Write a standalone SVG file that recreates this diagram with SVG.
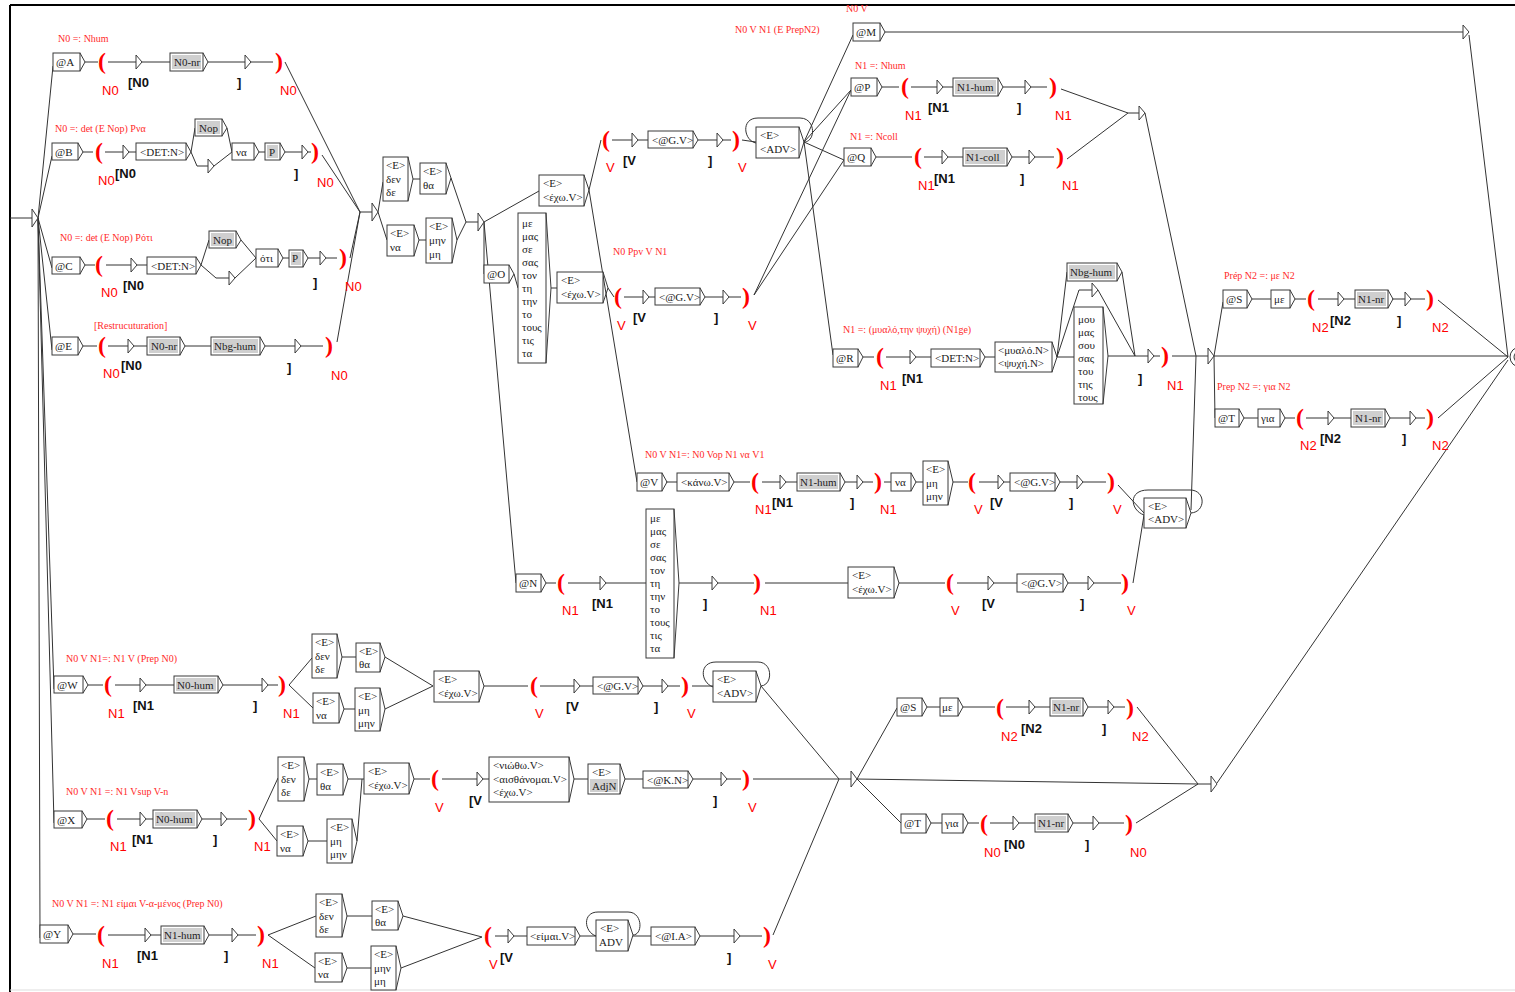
<svg xmlns="http://www.w3.org/2000/svg" width="1515" height="992" viewBox="0 0 1515 992">
<defs>
<style>
.bx{fill:#fff;stroke:#3a3a3a;stroke-width:1}
.gy{fill:#cfcfcf;stroke:none}
.ar{fill:none;stroke:#3a3a3a;stroke-width:1}
.tri{fill:#fff;stroke:#3a3a3a;stroke-width:1}
.t{font-family:"Liberation Serif",serif;font-size:11px;fill:#222}
.p{font-family:"Liberation Serif",serif;font-size:24px;font-weight:bold;fill:#ff0000}
.r{font-family:"Liberation Sans",sans-serif;font-size:13px;fill:#ff0000}
.k{font-family:"Liberation Sans",sans-serif;font-size:13px;font-weight:bold;fill:#111}
.c{font-family:"Liberation Serif",serif;font-size:10px;fill:#ff2a2a}
#edges path{stroke:#333;stroke-width:1;fill:none}
</style>
<path id="tr" d="M0,-7L6,0L0,7Z"/>
</defs>
<rect width="1515" height="992" fill="#fff"/>
<g id="frame">
<line x1="10" y1="5" x2="1515" y2="5" stroke="#000" stroke-width="2"/>
<line x1="10" y1="5" x2="10" y2="992" stroke="#000" stroke-width="2"/>
<line x1="10" y1="990" x2="1515" y2="990" stroke="#ddd"/>
</g>
<g id="comments">
<text class="c" x="58" y="42">N0 =: Nhum</text>
<text class="c" x="55" y="132">N0 =: det (E Nop) Pνα</text>
<text class="c" x="60" y="241">N0 =: det (E Nop) Pότι</text>
<text class="c" x="94" y="329">[Restrucuturation]</text>
<text class="c" x="846" y="12">N0 V</text>
<text class="c" x="735" y="33">N0 V N1 (E PrepN2)</text>
<text class="c" x="855" y="69">N1 =: Nhum</text>
<text class="c" x="850" y="140">N1 =: Ncoll</text>
<text class="c" x="613" y="255">N0 Ppv V N1</text>
<text class="c" x="843" y="333">N1 =: (μυαλό,την ψυχή) (N1ge)</text>
<text class="c" x="1224" y="279">Prép N2 =: με N2</text>
<text class="c" x="1217" y="390">Prep N2 =: για N2</text>
<text class="c" x="645" y="458">N0 V N1=: N0 Vop N1 να V1</text>
<text class="c" x="66" y="662">N0 V N1=: N1 V (Prep N0)</text>
<text class="c" x="66" y="795">N0 V N1 =: N1 Vsup V-n</text>
<text class="c" x="52" y="907">N0 V N1  =: N1 είμαι V-α-μένος (Prep N0)</text>
</g>
<g id="edges">
<path d="M10,218H32M38,218L53,66M38,218L52,156M38,218L52,268M38,218L52,350M38,218L54,689M38,218L54,823M38,218L40,938"/>
<path d="M85,62H98M108,62H136M142,62H170M208,62H245M251,62H273M285,62L360,212"/>
<path d="M83,152H93M105,152H123M129,152H136M191,152L195,128M191,152L197,166H208M227,128L232,152M214,166L232,152M259,152H265M285,152H302M308,152H311M322,155L360,212"/>
<path d="M85,265H95M106,265H131M137,265H147M201,265L209,240M201,265L216,278H229M241,240L256,258M235,278L256,258M283,258H289M308,258H320M326,258H337M350,258L360,212"/>
<path d="M83,346H97M108,346H128M134,346H147M185,346H211M265,346H295M301,346H323M337,342L360,212"/>
<path d="M360,212H372M378,212L383,182M378,212L387,240M413,179H420M419,240H426M451,178L466,222M457,240L466,222M466,222H478"/>
<path d="M484,222L539,191M484,222L484,274M484,222L516,583M514,274L518,288M551,288H557M589,190L601,140M589,190L637,482M608,288L614,297"/>
<path d="M612,140H632M638,140H648M698,140H717M723,140H731M742,140L756,142"/>
<path d="M756,143C744,141 740,118 758,118L800,118C816,118 816,142 804,142"/>
<path d="M804,142L853,35M804,142L851,90M804,142L844,160M804,142L833,355"/>
<path d="M624,297H643M649,297H655M705,297H723M729,297H741M754,295L851,90M754,295L844,160"/>
<path d="M885,32H1463M1469,35L1508,357"/>
<path d="M882,87H899M911,87H937M943,87H953M1003,87H1025M1031,87H1047M1061,89L1128,113"/>
<path d="M876,157H912M924,157H942M948,157H963M1012,157H1029M1035,157H1054M1067,159L1128,113M1128,113H1139M1145,113L1196,356"/>
<path d="M863,357H874M886,357H910M916,357H931M985,357H995M1057,357L1067,272M1057,357L1079,290H1092M1057,357H1074M1122,272L1135,356M1098,290L1135,356M1108,356H1148M1154,356H1160M1172,356H1208"/>
<path d="M1214,356L1223,302M1214,356L1215,418M1214,356H1508"/>
<path d="M1252,299H1271M1295,299H1306M1318,299H1338M1344,299H1355M1392,299H1405M1411,299H1425M1438,300L1508,357"/>
<path d="M1244,418H1258M1285,418H1295M1306,418H1328M1334,418H1351M1390,418H1410M1416,418H1425M1438,418L1508,357"/>
<path d="M666,482H677M734,482H750M762,482H780M786,482H797M845,482H857M863,482H873M884,482H891M916,482H923M953,482H968M979,482H998M1004,482H1010M1060,482H1077M1083,482H1106M1118,485L1144,513"/>
<path d="M1144,515C1130,510 1128,490 1148,490L1190,490C1206,490 1206,512 1191,513"/>
<path d="M1191,510L1196,356"/>
<path d="M546,583H556M568,583H600M606,583H646M679,583H712M718,583H754M765,583H848M899,583H945M957,583H988M994,583H1017M1068,583H1088M1094,583H1121M1133,583L1144,515"/>
<path d="M88,685H103M115,685H140M146,685H174M223,685H262M268,685H278M289,685L312,658M289,685L313,708M342,657H356M344,709H355M385,657L433,686M385,709L433,686M484,686H528M540,686H574M580,686H593M643,686H662M668,686H680M692,686H713M761,686L839,779"/>
<path d="M713,687C700,682 699,662 716,662L758,662C773,662 773,685 761,686"/>
<path d="M87,819H105M117,819H140M146,819H153M202,819H221M227,819H247M259,819L278,778M259,819L277,841M309,779H317M308,841H327M348,779H364M357,841L362,779M414,779H430M442,779H477M483,779H489M574,779H588M625,779H643M693,779H721M727,779H741M753,779H839"/>
<path d="M73,934H96M108,935H145M151,935H161M209,935H232M238,935H256M268,935L316,916M268,935L315,968M347,916H372M347,968H371M403,916L482,937M401,968L482,937M495,936H508M514,936H527M580,936H596M633,936H651M700,936H734M740,936H762M773,935L839,779"/>
<path d="M596,936C584,932 582,912 598,912L628,912C643,912 643,935 633,935"/>
<path d="M839,779H851M857,779L897,708M857,779L901,823M857,779L1198,784"/>
<path d="M927,707H940M963,707H995M1006,707H1029M1035,707H1050M1088,707H1108M1114,707H1125M1137,707L1198,784"/>
<path d="M931,823H942M968,823H979M990,823H1013M1019,823H1035M1073,823H1093M1099,823H1124M1136,823L1198,784"/>
<path d="M1198,784H1211M1217,783L1508,360"/>
</g>
<g id="init"><path class="tri" d="M32,209L38,218L32,227Z"/></g>
<g id="final"><circle cx="1520" cy="357" r="10" fill="#fff" stroke="#333"/><circle cx="1520" cy="357" r="6" fill="none" stroke="#333"/></g>

<g id="nA"><rect class="bx" x="53" y="53" width="27" height="18"/><polyline class="ar" points="80,53 85,62 80,71"/><text class="t" x="56" y="66">@A</text></g>
<g id="pA1"><text class="p" x="98" y="69">(</text><text class="r" x="102" y="95">N0</text></g>
<g id="eA1"><use class="tri" href="#tr" x="136" y="62"/><text class="k" x="128" y="87">[N0</text></g>
<g id="nA2"><rect class="bx" x="170" y="53" width="33" height="18"/><rect class="gy" x="172" y="55" width="29" height="14"/><polyline class="ar" points="203,53 208,62 203,71"/><text class="t" x="174" y="66">N0-nr</text></g>
<g id="eA2"><use class="tri" href="#tr" x="245" y="62"/><text class="k" x="237" y="87">]</text></g>
<g id="pA2"><text class="p" x="275" y="69">)</text><text class="r" x="280" y="95">N0</text></g>

<g id="nB"><rect class="bx" x="52" y="143" width="26" height="17"/><polyline class="ar" points="78,143 83,152 78,160"/><text class="t" x="55" y="156">@B</text></g>
<g id="pB1"><text class="p" x="95" y="159">(</text><text class="r" x="98" y="185">N0</text></g>
<g id="eB1"><use class="tri" href="#tr" x="123" y="152"/><text class="k" x="115" y="178">[N0</text></g>
<g id="nB2"><rect class="bx" x="136" y="143" width="50" height="17"/><polyline class="ar" points="186,143 191,152 186,160"/><text class="t" x="140" y="156">&lt;DET:N&gt;</text></g>
<g id="nB3"><rect class="bx" x="195" y="119" width="27" height="17"/><rect class="gy" x="197" y="121" width="23" height="13"/><polyline class="ar" points="222,119 227,128 222,136"/><text class="t" x="199" y="132">Nop</text></g>
<g id="eB2"><use class="tri" href="#tr" x="208" y="166"/></g>
<g id="nB4"><rect class="bx" x="232" y="143" width="22" height="17"/><polyline class="ar" points="254,143 259,152 254,160"/><text class="t" x="236" y="156">να</text></g>
<g id="nB5"><rect class="bx" x="265" y="143" width="15" height="17"/><rect class="gy" x="267" y="145" width="11" height="13"/><polyline class="ar" points="280,143 285,152 280,160"/><text class="t" x="269" y="156">P</text></g>
<g id="eB3"><use class="tri" href="#tr" x="302" y="152"/><text class="k" x="294" y="178">]</text></g>
<g id="pB2"><text class="p" x="311" y="159">)</text><text class="r" x="317" y="187">N0</text></g>

<g id="nC"><rect class="bx" x="52" y="257" width="28" height="17"/><polyline class="ar" points="80,257 85,265 80,274"/><text class="t" x="55" y="270">@C</text></g>
<g id="pC1"><text class="p" x="95" y="272">(</text><text class="r" x="101" y="297">N0</text></g>
<g id="eC1"><use class="tri" href="#tr" x="131" y="265"/><text class="k" x="123" y="290">[N0</text></g>
<g id="nC2"><rect class="bx" x="147" y="257" width="49" height="17"/><polyline class="ar" points="196,257 201,265 196,274"/><text class="t" x="151" y="270">&lt;DET:N&gt;</text></g>
<g id="nC3"><rect class="bx" x="209" y="231" width="27" height="17"/><rect class="gy" x="211" y="233" width="23" height="13"/><polyline class="ar" points="236,231 241,240 236,248"/><text class="t" x="213" y="244">Nop</text></g>
<g id="eC2"><use class="tri" href="#tr" x="229" y="278"/></g>
<g id="nC4"><rect class="bx" x="256" y="249" width="22" height="18"/><polyline class="ar" points="278,249 283,258 278,267"/><text class="t" x="260" y="262">ότι</text></g>
<g id="nC5"><rect class="bx" x="289" y="250" width="14" height="17"/><rect class="gy" x="291" y="252" width="10" height="13"/><polyline class="ar" points="303,250 308,258 303,267"/><text class="t" x="292" y="262">P</text></g>
<g id="eC3"><use class="tri" href="#tr" x="320" y="258"/><text class="k" x="313" y="287">]</text></g>
<g id="pC2"><text class="p" x="339" y="265">)</text><text class="r" x="345" y="291">N0</text></g>

<g id="nE"><rect class="bx" x="52" y="337" width="26" height="18"/><polyline class="ar" points="78,337 83,346 78,355"/><text class="t" x="55" y="350">@E</text></g>
<g id="pE1"><text class="p" x="98" y="353">(</text><text class="r" x="103" y="378">N0</text></g>
<g id="eE1"><use class="tri" href="#tr" x="128" y="346"/><text class="k" x="121" y="370">[N0</text></g>
<g id="nE2"><rect class="bx" x="147" y="337" width="33" height="18"/><rect class="gy" x="149" y="339" width="29" height="14"/><polyline class="ar" points="180,337 185,346 180,355"/><text class="t" x="151" y="350">N0-nr</text></g>
<g id="nE3"><rect class="bx" x="211" y="337" width="49" height="18"/><rect class="gy" x="213" y="339" width="45" height="14"/><polyline class="ar" points="260,337 265,346 260,355"/><text class="t" x="214" y="350">Nbg-hum</text></g>
<g id="eE2"><use class="tri" href="#tr" x="295" y="346"/><text class="k" x="287" y="372">]</text></g>
<g id="pE2"><text class="p" x="325" y="353">)</text><text class="r" x="331" y="380">N0</text></g>

<g id="j1"><path class="tri" d="M372,203L378,212L372,221Z"/></g>
<g id="n1den"><rect class="bx" x="383" y="157" width="25" height="44"/><polyline class="ar" points="408,157 413,179 408,201"/><text class="t" x="386" y="169">&lt;E&gt;</text><text class="t" x="386" y="183">δεν</text><text class="t" x="386" y="196">δε</text></g>
<g id="n1tha"><rect class="bx" x="420" y="163" width="26" height="31"/><polyline class="ar" points="446,163 451,178 446,194"/><text class="t" x="423" y="175">&lt;E&gt;</text><text class="t" x="423" y="189">θα</text></g>
<g id="n1na"><rect class="bx" x="387" y="225" width="27" height="31"/><polyline class="ar" points="414,225 419,240 414,256"/><text class="t" x="390" y="237">&lt;E&gt;</text><text class="t" x="390" y="251">να</text></g>
<g id="n1mh"><rect class="bx" x="426" y="218" width="26" height="45"/><polyline class="ar" points="452,218 457,240 452,263"/><text class="t" x="429" y="230">&lt;E&gt;</text><text class="t" x="429" y="244">μην</text><text class="t" x="429" y="258">μη</text></g>
<g id="j2"><path class="tri" d="M478,213L484,222L478,231Z"/></g>
<g id="nexo1"><rect class="bx" x="539" y="175" width="45" height="31"/><polyline class="ar" points="584,175 589,190 584,206"/><text class="t" x="543" y="187">&lt;E&gt;</text><text class="t" x="543" y="201">&lt;έχω.V&gt;</text></g>
<g id="nO"><rect class="bx" x="484" y="265" width="25" height="18"/><polyline class="ar" points="509,265 514,274 509,283"/><text class="t" x="487" y="278">@O</text></g>
<g id="nlist1"><rect class="bx" x="518" y="213" width="28" height="150"/><polyline class="ar" points="546,213 551,288 546,363"/>
<text class="t" x="522" y="227">με</text><text class="t" x="522" y="240">μας</text><text class="t" x="522" y="253">σε</text><text class="t" x="522" y="266">σας</text><text class="t" x="522" y="279">τον</text><text class="t" x="522" y="292">τη</text><text class="t" x="522" y="305">την</text><text class="t" x="522" y="318">το</text><text class="t" x="522" y="331">τους</text><text class="t" x="522" y="344">τις</text><text class="t" x="522" y="357">τα</text></g>
<g id="nexo2"><rect class="bx" x="557" y="272" width="46" height="31"/><polyline class="ar" points="603,272 608,288 603,303"/><text class="t" x="561" y="284">&lt;E&gt;</text><text class="t" x="561" y="298">&lt;έχω.V&gt;</text></g>

<g id="pV1"><text class="p" x="602" y="147">(</text><text class="r" x="606" y="172">V</text></g>
<g id="eV1"><use class="tri" href="#tr" x="632" y="140"/><text class="k" x="623" y="165">[V</text></g>
<g id="nGV1"><rect class="bx" x="648" y="131" width="45" height="17"/><polyline class="ar" points="693,131 698,140 693,148"/><text class="t" x="652" y="144">&lt;@G.V&gt;</text></g>
<g id="eV2"><use class="tri" href="#tr" x="717" y="140"/><text class="k" x="708" y="165">]</text></g>
<g id="pV2"><text class="p" x="732" y="147">)</text><text class="r" x="738" y="172">V</text></g>
<g id="nADV1"><rect class="bx" x="756" y="127" width="43" height="31"/><polyline class="ar" points="799,127 804,142 799,158"/><text class="t" x="760" y="139">&lt;E&gt;</text><text class="t" x="760" y="153">&lt;ADV&gt;</text></g>

<g id="pV3"><text class="p" x="614" y="304">(</text><text class="r" x="617" y="330">V</text></g>
<g id="eV3"><use class="tri" href="#tr" x="643" y="297"/><text class="k" x="633" y="322">[V</text></g>
<g id="nGV2"><rect class="bx" x="655" y="288" width="45" height="17"/><polyline class="ar" points="700,288 705,297 700,305"/><text class="t" x="659" y="301">&lt;@G.V&gt;</text></g>
<g id="eV4"><use class="tri" href="#tr" x="723" y="297"/><text class="k" x="714" y="322">]</text></g>
<g id="pV4"><text class="p" x="742" y="304">)</text><text class="r" x="748" y="330">V</text></g>

<g id="nM"><rect class="bx" x="853" y="23" width="27" height="18"/><polyline class="ar" points="880,23 885,32 880,41"/><text class="t" x="856" y="36">@M</text></g>
<g id="eM"><use class="tri" href="#tr" x="1463" y="32"/></g>

<g id="nP"><rect class="bx" x="851" y="78" width="26" height="18"/><polyline class="ar" points="877,78 882,87 877,96"/><text class="t" x="854" y="91">@P</text></g>
<g id="pP1"><text class="p" x="901" y="94">(</text><text class="r" x="905" y="120">N1</text></g>
<g id="eP1"><use class="tri" href="#tr" x="937" y="87"/><text class="k" x="928" y="112">[N1</text></g>
<g id="nP2"><rect class="bx" x="953" y="78" width="45" height="18"/><rect class="gy" x="955" y="80" width="41" height="14"/><polyline class="ar" points="998,78 1003,87 998,96"/><text class="t" x="957" y="91">N1-hum</text></g>
<g id="eP2"><use class="tri" href="#tr" x="1025" y="87"/><text class="k" x="1017" y="112">]</text></g>
<g id="pP2"><text class="p" x="1049" y="94">)</text><text class="r" x="1055" y="120">N1</text></g>

<g id="nQ"><rect class="bx" x="844" y="148" width="27" height="18"/><polyline class="ar" points="871,148 876,157 871,166"/><text class="t" x="847" y="161">@Q</text></g>
<g id="pQ1"><text class="p" x="914" y="164">(</text><text class="r" x="918" y="190">N1</text></g>
<g id="eQ1"><use class="tri" href="#tr" x="942" y="157"/><text class="k" x="934" y="183">[N1</text></g>
<g id="nQ2"><rect class="bx" x="963" y="148" width="44" height="18"/><rect class="gy" x="965" y="150" width="40" height="14"/><polyline class="ar" points="1007,148 1012,157 1007,166"/><text class="t" x="966" y="161">N1-coll</text></g>
<g id="eQ2"><use class="tri" href="#tr" x="1029" y="157"/><text class="k" x="1020" y="183">]</text></g>
<g id="pQ2"><text class="p" x="1056" y="164">)</text><text class="r" x="1062" y="190">N1</text></g>
<g id="jPQ"><use class="tri" href="#tr" x="1139" y="113"/></g>

<g id="nR"><rect class="bx" x="833" y="349" width="25" height="18"/><polyline class="ar" points="858,349 863,357 858,367"/><text class="t" x="836" y="362">@R</text></g>
<g id="pR1"><text class="p" x="876" y="364">(</text><text class="r" x="880" y="390">N1</text></g>
<g id="eR1"><use class="tri" href="#tr" x="910" y="357"/><text class="k" x="902" y="383">[N1</text></g>
<g id="nR2"><rect class="bx" x="931" y="349" width="49" height="18"/><polyline class="ar" points="980,349 985,357 980,367"/><text class="t" x="935" y="362">&lt;DET:N&gt;</text></g>
<g id="nR3"><rect class="bx" x="995" y="342" width="57" height="30"/><polyline class="ar" points="1052,342 1057,357 1052,372"/><text class="t" x="998" y="354">&lt;μυαλό.N&gt;</text><text class="t" x="998" y="367">&lt;ψυχή.N&gt;</text></g>
<g id="nR4"><rect class="bx" x="1067" y="263" width="50" height="18"/><rect class="gy" x="1069" y="265" width="46" height="14"/><polyline class="ar" points="1117,263 1122,272 1117,281"/><text class="t" x="1070" y="276">Nbg-hum</text></g>
<g id="eR2"><use class="tri" href="#tr" x="1092" y="290"/></g>
<g id="nR5"><rect class="bx" x="1074" y="307" width="29" height="97"/><polyline class="ar" points="1103,307 1108,356 1103,404"/>
<text class="t" x="1078" y="323">μου</text><text class="t" x="1078" y="336">μας</text><text class="t" x="1078" y="349">σου</text><text class="t" x="1078" y="362">σας</text><text class="t" x="1078" y="375">του</text><text class="t" x="1078" y="388">της</text><text class="t" x="1078" y="401">τους</text></g>
<g id="eR3"><use class="tri" href="#tr" x="1148" y="356"/><text class="k" x="1138" y="383">]</text></g>
<g id="pR2"><text class="p" x="1161" y="363">)</text><text class="r" x="1167" y="390">N1</text></g>
<g id="j3"><path class="tri" d="M1208,348L1214,356L1208,364Z"/></g>

<g id="nS"><rect class="bx" x="1223" y="290" width="24" height="18"/><polyline class="ar" points="1247,290 1252,299 1247,308"/><text class="t" x="1226" y="303">@S</text></g>
<g id="nS2"><rect class="bx" x="1271" y="290" width="19" height="18"/><polyline class="ar" points="1290,290 1295,299 1290,308"/><text class="t" x="1274" y="303">με</text></g>
<g id="pS1"><text class="p" x="1307" y="306">(</text><text class="r" x="1312" y="332">N2</text></g>
<g id="eS1"><use class="tri" href="#tr" x="1338" y="299"/><text class="k" x="1330" y="325">[N2</text></g>
<g id="nS3"><rect class="bx" x="1355" y="290" width="33" height="18"/><rect class="gy" x="1357" y="292" width="29" height="14"/><polyline class="ar" points="1388,290 1393,299 1388,308"/><text class="t" x="1358" y="303">N1-nr</text></g>
<g id="eS2"><use class="tri" href="#tr" x="1405" y="299"/><text class="k" x="1397" y="325">]</text></g>
<g id="pS2"><text class="p" x="1426" y="306">)</text><text class="r" x="1432" y="332">N2</text></g>

<g id="nT"><rect class="bx" x="1215" y="409" width="24" height="18"/><polyline class="ar" points="1239,409 1244,418 1239,427"/><text class="t" x="1218" y="422">@T</text></g>
<g id="nT2"><rect class="bx" x="1258" y="409" width="22" height="18"/><polyline class="ar" points="1280,409 1285,418 1280,427"/><text class="t" x="1261" y="422">για</text></g>
<g id="pT1"><text class="p" x="1296" y="425">(</text><text class="r" x="1300" y="450">N2</text></g>
<g id="eT1"><use class="tri" href="#tr" x="1328" y="418"/><text class="k" x="1320" y="443">[N2</text></g>
<g id="nT3"><rect class="bx" x="1351" y="409" width="34" height="18"/><rect class="gy" x="1353" y="411" width="30" height="14"/><polyline class="ar" points="1385,409 1390,418 1385,427"/><text class="t" x="1355" y="422">N1-nr</text></g>
<g id="eT2"><use class="tri" href="#tr" x="1410" y="418"/><text class="k" x="1402" y="443">]</text></g>
<g id="pT2"><text class="p" x="1426" y="425">)</text><text class="r" x="1432" y="450">N2</text></g>

<g id="nV"><rect class="bx" x="637" y="473" width="25" height="18"/><polyline class="ar" points="662,473 667,482 662,491"/><text class="t" x="640" y="486">@V</text></g>
<g id="nV2"><rect class="bx" x="677" y="473" width="52" height="18"/><polyline class="ar" points="729,473 734,482 729,491"/><text class="t" x="681" y="486">&lt;κάνω.V&gt;</text></g>
<g id="pV5"><text class="p" x="751" y="489">(</text><text class="r" x="755" y="514">N1</text></g>
<g id="eV5"><use class="tri" href="#tr" x="780" y="482"/><text class="k" x="772" y="507">[N1</text></g>
<g id="nV3"><rect class="bx" x="797" y="473" width="43" height="18"/><rect class="gy" x="799" y="475" width="39" height="14"/><polyline class="ar" points="840,473 845,482 840,491"/><text class="t" x="800" y="486">N1-hum</text></g>
<g id="eV6"><use class="tri" href="#tr" x="857" y="482"/><text class="k" x="850" y="507">]</text></g>
<g id="pV6"><text class="p" x="874" y="489">)</text><text class="r" x="880" y="514">N1</text></g>
<g id="nV4"><rect class="bx" x="891" y="473" width="20" height="18"/><polyline class="ar" points="911,473 916,482 911,491"/><text class="t" x="895" y="486">να</text></g>
<g id="nV5"><rect class="bx" x="923" y="461" width="25" height="44"/><polyline class="ar" points="948,461 953,482 948,505"/><text class="t" x="926" y="473">&lt;E&gt;</text><text class="t" x="926" y="487">μη</text><text class="t" x="926" y="500">μην</text></g>
<g id="pV7"><text class="p" x="968" y="489">(</text><text class="r" x="974" y="514">V</text></g>
<g id="eV7"><use class="tri" href="#tr" x="998" y="482"/><text class="k" x="990" y="507">[V</text></g>
<g id="nV6"><rect class="bx" x="1010" y="473" width="45" height="18"/><polyline class="ar" points="1055,473 1060,482 1055,491"/><text class="t" x="1014" y="486">&lt;@G.V&gt;</text></g>
<g id="eV8"><use class="tri" href="#tr" x="1077" y="482"/><text class="k" x="1069" y="507">]</text></g>
<g id="pV8"><text class="p" x="1107" y="489">)</text><text class="r" x="1113" y="514">V</text></g>
<g id="nADV2"><rect class="bx" x="1144" y="498" width="42" height="30"/><polyline class="ar" points="1186,498 1191,513 1186,528"/><text class="t" x="1148" y="510">&lt;E&gt;</text><text class="t" x="1148" y="523">&lt;ADV&gt;</text></g>

<g id="nN"><rect class="bx" x="516" y="574" width="25" height="18"/><polyline class="ar" points="541,574 546,583 541,592"/><text class="t" x="519" y="587">@N</text></g>
<g id="pN1"><text class="p" x="557" y="590">(</text><text class="r" x="562" y="615">N1</text></g>
<g id="eN1"><use class="tri" href="#tr" x="600" y="583"/><text class="k" x="592" y="608">[N1</text></g>
<g id="nN2"><rect class="bx" x="646" y="509" width="28" height="149"/><polyline class="ar" points="674,509 679,583 674,658"/>
<text class="t" x="650" y="522">με</text><text class="t" x="650" y="535">μας</text><text class="t" x="650" y="548">σε</text><text class="t" x="650" y="561">σας</text><text class="t" x="650" y="574">τον</text><text class="t" x="650" y="587">τη</text><text class="t" x="650" y="600">την</text><text class="t" x="650" y="613">το</text><text class="t" x="650" y="626">τους</text><text class="t" x="650" y="639">τις</text><text class="t" x="650" y="652">τα</text></g>
<g id="eN2"><use class="tri" href="#tr" x="712" y="583"/><text class="k" x="703" y="608">]</text></g>
<g id="pN2"><text class="p" x="753" y="590">)</text><text class="r" x="760" y="615">N1</text></g>
<g id="nN3"><rect class="bx" x="848" y="567" width="46" height="31"/><polyline class="ar" points="894,567 899,583 894,598"/><text class="t" x="852" y="579">&lt;E&gt;</text><text class="t" x="852" y="593">&lt;έχω.V&gt;</text></g>
<g id="pN3"><text class="p" x="946" y="590">(</text><text class="r" x="951" y="615">V</text></g>
<g id="eN3"><use class="tri" href="#tr" x="988" y="583"/><text class="k" x="982" y="608">[V</text></g>
<g id="nN4"><rect class="bx" x="1017" y="574" width="46" height="18"/><polyline class="ar" points="1063,574 1068,583 1063,592"/><text class="t" x="1021" y="587">&lt;@G.V&gt;</text></g>
<g id="eN4"><use class="tri" href="#tr" x="1088" y="583"/><text class="k" x="1080" y="608">]</text></g>
<g id="pN4"><text class="p" x="1121" y="590">)</text><text class="r" x="1127" y="615">V</text></g>

<g id="nW"><rect class="bx" x="54" y="676" width="29" height="17"/><polyline class="ar" points="83,676 88,685 83,693"/><text class="t" x="57" y="689">@W</text></g>
<g id="pW1"><text class="p" x="104" y="692">(</text><text class="r" x="108" y="718">N1</text></g>
<g id="eW1"><use class="tri" href="#tr" x="140" y="685"/><text class="k" x="133" y="710">[N1</text></g>
<g id="nW2"><rect class="bx" x="174" y="676" width="44" height="17"/><rect class="gy" x="176" y="678" width="40" height="13"/><polyline class="ar" points="218,676 223,685 218,693"/><text class="t" x="177" y="689">N0-hum</text></g>
<g id="eW2"><use class="tri" href="#tr" x="262" y="685"/><text class="k" x="253" y="710">]</text></g>
<g id="pW2"><text class="p" x="278" y="692">)</text><text class="r" x="283" y="718">N1</text></g>
<g id="nW3"><rect class="bx" x="312" y="634" width="25" height="44"/><polyline class="ar" points="337,634 342,657 337,678"/><text class="t" x="315" y="646">&lt;E&gt;</text><text class="t" x="315" y="660">δεν</text><text class="t" x="315" y="673">δε</text></g>
<g id="nW4"><rect class="bx" x="313" y="693" width="26" height="30"/><polyline class="ar" points="339,693 344,709 339,723"/><text class="t" x="316" y="705">&lt;E&gt;</text><text class="t" x="316" y="719">να</text></g>
<g id="nW5"><rect class="bx" x="356" y="643" width="24" height="29"/><polyline class="ar" points="380,643 385,657 380,672"/><text class="t" x="359" y="655">&lt;E&gt;</text><text class="t" x="359" y="668">θα</text></g>
<g id="nW6"><rect class="bx" x="355" y="688" width="25" height="43"/><polyline class="ar" points="380,688 385,709 380,731"/><text class="t" x="358" y="700">&lt;E&gt;</text><text class="t" x="358" y="714">μη</text><text class="t" x="358" y="727">μην</text></g>
<g id="nW7"><rect class="bx" x="434" y="671" width="45" height="31"/><polyline class="ar" points="479,671 484,686 479,702"/><text class="t" x="438" y="683">&lt;E&gt;</text><text class="t" x="438" y="697">&lt;έχω.V&gt;</text></g>
<g id="pW3"><text class="p" x="530" y="693">(</text><text class="r" x="535" y="718">V</text></g>
<g id="eW3"><use class="tri" href="#tr" x="574" y="686"/><text class="k" x="566" y="711">[V</text></g>
<g id="nW8"><rect class="bx" x="593" y="677" width="45" height="17"/><polyline class="ar" points="638,677 643,686 638,694"/><text class="t" x="597" y="690">&lt;@G.V&gt;</text></g>
<g id="eW4"><use class="tri" href="#tr" x="662" y="686"/><text class="k" x="654" y="711">]</text></g>
<g id="pW4"><text class="p" x="681" y="693">)</text><text class="r" x="687" y="718">V</text></g>
<g id="nADV3"><rect class="bx" x="713" y="671" width="43" height="31"/><polyline class="ar" points="756,671 761,686 756,702"/><text class="t" x="717" y="683">&lt;E&gt;</text><text class="t" x="717" y="697">&lt;ADV&gt;</text></g>

<g id="nX"><rect class="bx" x="54" y="811" width="28" height="17"/><polyline class="ar" points="82,811 87,819 82,828"/><text class="t" x="57" y="824">@X</text></g>
<g id="pX1"><text class="p" x="106" y="826">(</text><text class="r" x="110" y="851">N1</text></g>
<g id="eX1"><use class="tri" href="#tr" x="140" y="819"/><text class="k" x="132" y="844">[N1</text></g>
<g id="nX2"><rect class="bx" x="153" y="810" width="44" height="18"/><rect class="gy" x="155" y="812" width="40" height="14"/><polyline class="ar" points="197,810 202,819 197,828"/><text class="t" x="156" y="823">N0-hum</text></g>
<g id="eX2"><use class="tri" href="#tr" x="221" y="819"/><text class="k" x="213" y="844">]</text></g>
<g id="pX2"><text class="p" x="248" y="826">)</text><text class="r" x="254" y="851">N1</text></g>
<g id="nX3"><rect class="bx" x="278" y="757" width="26" height="44"/><polyline class="ar" points="304,757 309,779 304,801"/><text class="t" x="281" y="769">&lt;E&gt;</text><text class="t" x="281" y="783">δεν</text><text class="t" x="281" y="796">δε</text></g>
<g id="nX4"><rect class="bx" x="277" y="826" width="26" height="30"/><polyline class="ar" points="303,826 308,841 303,856"/><text class="t" x="280" y="838">&lt;E&gt;</text><text class="t" x="280" y="852">να</text></g>
<g id="nX5"><rect class="bx" x="317" y="764" width="26" height="31"/><polyline class="ar" points="343,764 348,779 343,795"/><text class="t" x="320" y="776">&lt;E&gt;</text><text class="t" x="320" y="790">θα</text></g>
<g id="nX6"><rect class="bx" x="327" y="819" width="25" height="44"/><polyline class="ar" points="352,819 357,841 352,863"/><text class="t" x="330" y="831">&lt;E&gt;</text><text class="t" x="330" y="845">μη</text><text class="t" x="330" y="858">μην</text></g>
<g id="nX7"><rect class="bx" x="364" y="763" width="45" height="31"/><polyline class="ar" points="409,763 414,779 409,794"/><text class="t" x="368" y="775">&lt;E&gt;</text><text class="t" x="368" y="789">&lt;έχω.V&gt;</text></g>
<g id="pX3"><text class="p" x="431" y="786">(</text><text class="r" x="435" y="812">V</text></g>
<g id="eX3"><use class="tri" href="#tr" x="477" y="779"/><text class="k" x="469" y="805">[V</text></g>
<g id="nX8"><rect class="bx" x="489" y="757" width="80" height="45"/><polyline class="ar" points="569,757 574,779 569,802"/><text class="t" x="493" y="769">&lt;νιώθω.V&gt;</text><text class="t" x="493" y="783">&lt;αισθάνομαι.V&gt;</text><text class="t" x="493" y="796">&lt;έχω.V&gt;</text></g>
<g id="nX9"><rect class="bx" x="588" y="764" width="32" height="30"/><rect class="gy" x="590" y="779" width="28" height="13"/><polyline class="ar" points="620,764 625,779 620,794"/><text class="t" x="592" y="776">&lt;E&gt;</text><text class="t" x="592" y="790">AdjN</text></g>
<g id="nX10"><rect class="bx" x="643" y="771" width="45" height="17"/><polyline class="ar" points="688,771 693,779 688,788"/><text class="t" x="647" y="784">&lt;@K.N&gt;</text></g>
<g id="eX4"><use class="tri" href="#tr" x="721" y="779"/><text class="k" x="713" y="805">]</text></g>
<g id="pX4"><text class="p" x="742" y="786">)</text><text class="r" x="748" y="812">V</text></g>

<g id="nY"><rect class="bx" x="40" y="925" width="28" height="18"/><polyline class="ar" points="68,925 73,934 68,943"/><text class="t" x="43" y="938">@Y</text></g>
<g id="pY1"><text class="p" x="97" y="942">(</text><text class="r" x="102" y="968">N1</text></g>
<g id="eY1"><use class="tri" href="#tr" x="145" y="935"/><text class="k" x="137" y="960">[N1</text></g>
<g id="nY2"><rect class="bx" x="161" y="926" width="43" height="18"/><rect class="gy" x="163" y="928" width="39" height="14"/><polyline class="ar" points="204,926 209,935 204,944"/><text class="t" x="164" y="939">N1-hum</text></g>
<g id="eY2"><use class="tri" href="#tr" x="232" y="935"/><text class="k" x="224" y="960">]</text></g>
<g id="pY2"><text class="p" x="257" y="942">)</text><text class="r" x="262" y="968">N1</text></g>
<g id="nY3"><rect class="bx" x="316" y="894" width="26" height="43"/><polyline class="ar" points="342,894 347,916 342,937"/><text class="t" x="319" y="906">&lt;E&gt;</text><text class="t" x="319" y="920">δεν</text><text class="t" x="319" y="933">δε</text></g>
<g id="nY4"><rect class="bx" x="315" y="953" width="27" height="29"/><polyline class="ar" points="342,953 347,968 342,982"/><text class="t" x="318" y="965">&lt;E&gt;</text><text class="t" x="318" y="978">να</text></g>
<g id="nY5"><rect class="bx" x="372" y="901" width="26" height="29"/><polyline class="ar" points="398,901 403,916 398,930"/><text class="t" x="375" y="913">&lt;E&gt;</text><text class="t" x="375" y="926">θα</text></g>
<g id="nY6"><rect class="bx" x="371" y="946" width="25" height="44"/><polyline class="ar" points="396,946 401,968 396,990"/><text class="t" x="374" y="958">&lt;E&gt;</text><text class="t" x="374" y="972">μην</text><text class="t" x="374" y="985">μη</text></g>
<g id="pY3"><text class="p" x="484" y="943">(</text><text class="r" x="489" y="969">V</text></g>
<g id="eY3"><use class="tri" href="#tr" x="508" y="936"/><text class="k" x="500" y="962">[V</text></g>
<g id="nY7"><rect class="bx" x="527" y="927" width="48" height="18"/><polyline class="ar" points="575,927 580,936 575,945"/><text class="t" x="530" y="940">&lt;είμαι.V&gt;</text></g>
<g id="nADV4"><rect class="bx" x="596" y="920" width="32" height="31"/><polyline class="ar" points="628,920 633,935 628,951"/><text class="t" x="600" y="932">&lt;E&gt;</text><text class="t" x="599" y="946">ADV</text></g>
<g id="nY8"><rect class="bx" x="651" y="927" width="44" height="18"/><polyline class="ar" points="695,927 700,936 695,945"/><text class="t" x="655" y="940">&lt;@I.A&gt;</text></g>
<g id="eY4"><use class="tri" href="#tr" x="734" y="936"/><text class="k" x="727" y="962">]</text></g>
<g id="pY4"><text class="p" x="763" y="943">)</text><text class="r" x="768" y="969">V</text></g>

<g id="jB"><path class="tri" d="M851,771L857,779L851,787Z"/></g>
<g id="nS2b"><rect class="bx" x="897" y="698" width="25" height="18"/><polyline class="ar" points="922,698 927,707 922,716"/><text class="t" x="900" y="711">@S</text></g>
<g id="nS2c"><rect class="bx" x="940" y="698" width="18" height="18"/><polyline class="ar" points="958,698 963,707 958,716"/><text class="t" x="942" y="711">με</text></g>
<g id="pS21"><text class="p" x="996" y="715">(</text><text class="r" x="1001" y="741">N2</text></g>
<g id="eS21"><use class="tri" href="#tr" x="1029" y="707"/><text class="k" x="1021" y="733">[N2</text></g>
<g id="nS2d"><rect class="bx" x="1050" y="698" width="33" height="18"/><rect class="gy" x="1052" y="700" width="29" height="14"/><polyline class="ar" points="1083,698 1088,707 1083,716"/><text class="t" x="1053" y="711">N1-nr</text></g>
<g id="eS22"><use class="tri" href="#tr" x="1108" y="707"/><text class="k" x="1102" y="733">]</text></g>
<g id="pS22"><text class="p" x="1126" y="715">)</text><text class="r" x="1132" y="741">N2</text></g>
<g id="nT2b"><rect class="bx" x="901" y="814" width="25" height="19"/><polyline class="ar" points="926,814 931,823 926,833"/><text class="t" x="904" y="827">@T</text></g>
<g id="nT2c"><rect class="bx" x="942" y="814" width="21" height="19"/><polyline class="ar" points="963,814 968,823 963,833"/><text class="t" x="945" y="827">για</text></g>
<g id="pT21"><text class="p" x="980" y="831">(</text><text class="r" x="984" y="857">N0</text></g>
<g id="eT21"><use class="tri" href="#tr" x="1013" y="823"/><text class="k" x="1004" y="849">[N0</text></g>
<g id="nT2d"><rect class="bx" x="1035" y="814" width="33" height="18"/><rect class="gy" x="1037" y="816" width="29" height="14"/><polyline class="ar" points="1068,814 1073,823 1068,832"/><text class="t" x="1038" y="827">N1-nr</text></g>
<g id="eT22"><use class="tri" href="#tr" x="1093" y="823"/><text class="k" x="1085" y="849">]</text></g>
<g id="pT22"><text class="p" x="1125" y="831">)</text><text class="r" x="1130" y="857">N0</text></g>
<g id="jB2"><path class="tri" d="M1211,776L1217,784L1211,792Z"/></g>
</svg>
